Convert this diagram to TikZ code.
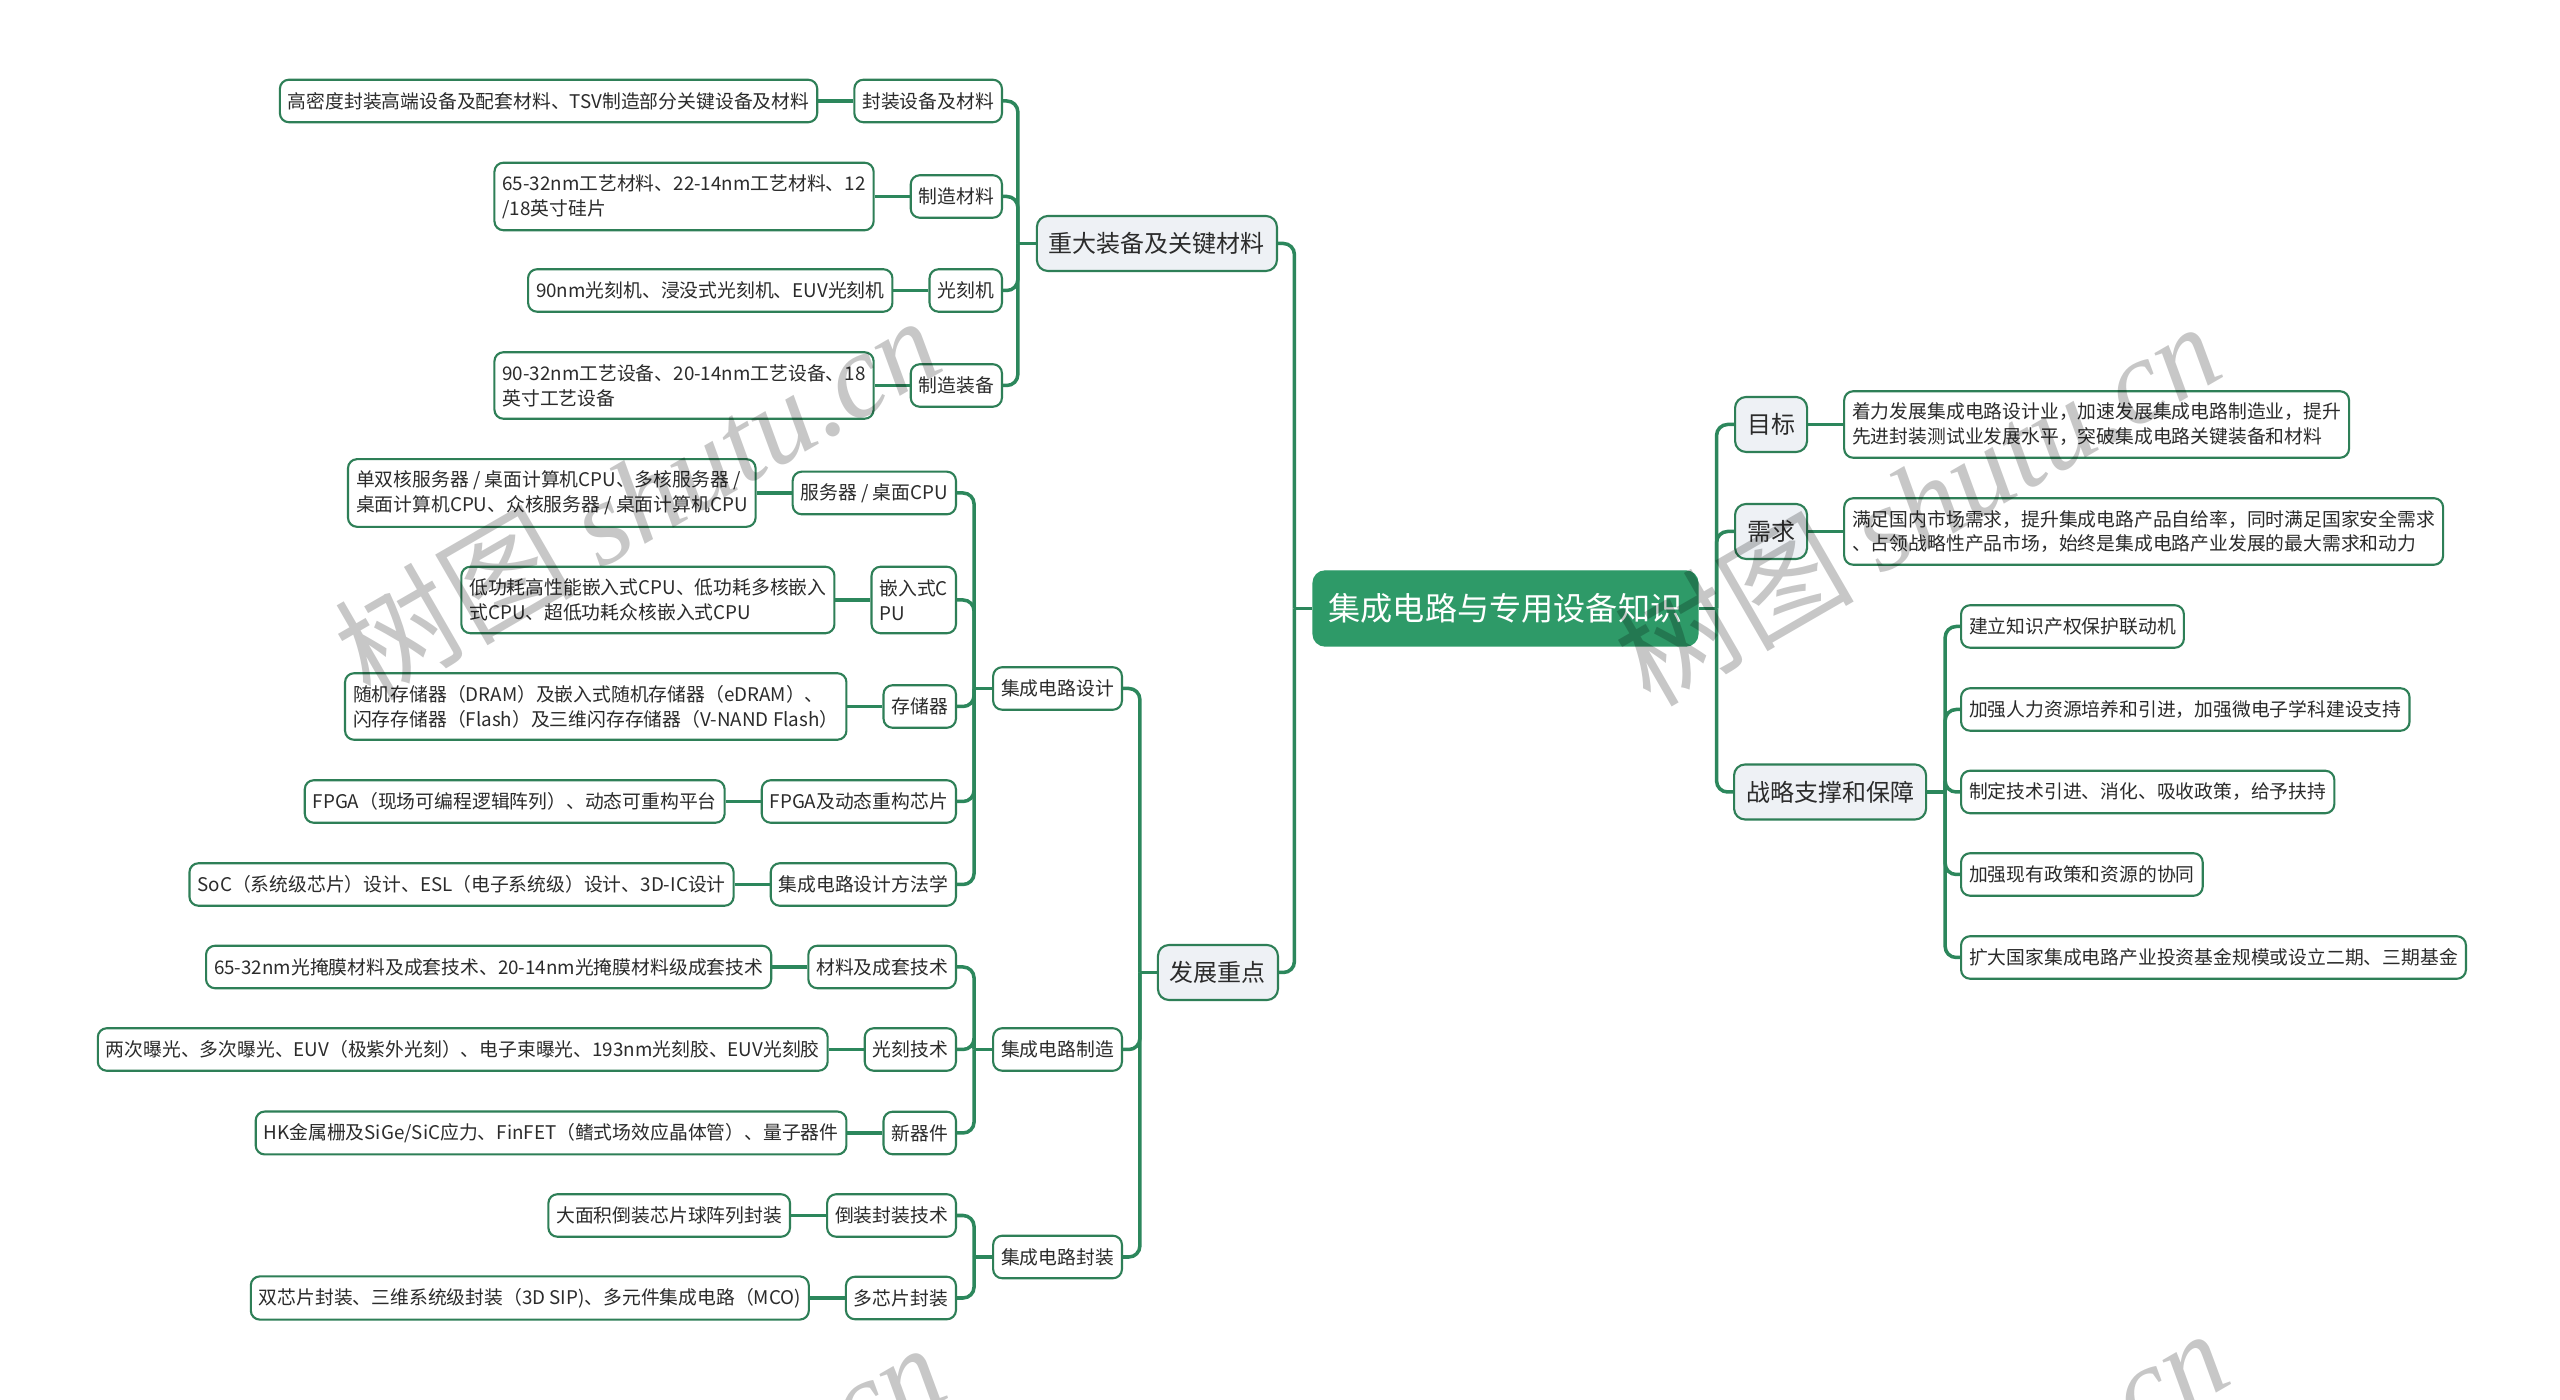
\documentclass[tikz,border=0pt]{standalone}
\usepackage{fontspec}
\setmainfont{Noto Sans CJK SC}
\newfontfamily\wmlatin{Liberation Serif}
\definecolor{lineg}{HTML}{2C875C}
\definecolor{boxg}{HTML}{2E7F57}
\definecolor{rootg}{HTML}{2E9A68}
\definecolor{lonefill}{HTML}{EEF1F5}
\definecolor{txt}{HTML}{2B2B2B}
\tikzset{
  conn/.style={draw=lineg, line width=1pt},
  connr/.style={conn, rounded corners=1.1mm},
  rootbox/.style={fill=rootg, draw=rootg, rounded corners=1.2mm, text=white,
    font=\fontsize{9.15pt}{11pt}\selectfont, inner xsep=1.55mm, minimum height=7.5mm},
  mainbox/.style={fill=lonefill, draw=boxg, line width=0.6pt, rounded corners=1.1mm, text=txt,
    font=\fontsize{6.83pt}{8.5pt}\selectfont, inner xsep=1.2mm, minimum height=5.5mm},
  subbox/.style={fill=white, draw=boxg, line width=0.6pt, rounded corners=0.9mm, text=txt,
    font=\fontsize{5.35pt}{7.1pt}\selectfont, inner xsep=0.8mm, minimum height=4.25mm, align=left},
  leaftwo/.style={subbox, minimum height=6.65mm},
  wm/.style={text=black, text opacity=0.22, font=\fontsize{34pt}{40pt}\selectfont, inner sep=0pt},
}
\begin{document}
\begin{tikzpicture}[x=0.1mm,y=-0.1mm]
\useasboundingbox (0,0) rectangle (2560,1400);
\fill[white] (0,0) rectangle (2560,1400);

% root
\node[rootbox] (root) at (1505.5,608.5) {集成电路与专用设备知识};

% level 1
\node[mainbox, anchor=east] (zd) at (1278,243.5) {重大装备及关键材料};
\node[mainbox, anchor=east] (fz) at (1279,972.5) {发展重点};
\node[mainbox, anchor=west] (mb) at (1734,424.5) {目标};
\node[mainbox, anchor=west] (xq) at (1734,531.5) {需求};
\node[mainbox, anchor=west] (zl) at (1733,792) {战略支撑和保障};

% zd children
\node[subbox, anchor=east] (zda) at (1003,101) {封装设备及材料};
\node[subbox, anchor=east] (zdb) at (1003,196.5) {制造材料};
\node[subbox, anchor=east] (zdc) at (1003,290.5) {光刻机};
\node[subbox, anchor=east] (zdd) at (1003,385.5) {制造装备};
\node[subbox, anchor=east] (zdal) at ([xshift=-3.5mm]zda.west) {高密度封装高端设备及配套材料、TSV制造部分关键设备及材料};
\node[leaftwo, anchor=east] (zdbl) at ([xshift=-3.5mm]zdb.west) {65-32nm工艺材料、22-14nm工艺材料、12\\/18英寸硅片};
\node[subbox, anchor=east] (zdcl) at ([xshift=-3.5mm]zdc.west) {90nm光刻机、浸没式光刻机、EUV光刻机};
\node[leaftwo, anchor=east] (zddl) at ([xshift=-3.5mm]zdd.west) {90-32nm工艺设备、20-14nm工艺设备、18\\英寸工艺设备};

% fz children
\node[subbox, anchor=east] (sj) at (1123,688.5) {集成电路设计};
\node[subbox, anchor=east] (zz) at (1123,1049.5) {集成电路制造};
\node[subbox, anchor=east] (fzz) at (1123,1257) {集成电路封装};

% sj children
\node[subbox, anchor=east] (sja) at (957,493) {服务器 / 桌面CPU};
\node[leaftwo, anchor=east] (sjb) at (957,600) {嵌入式C\\PU};
\node[subbox, anchor=east] (sjc) at (957,706.5) {存储器};
\node[subbox, anchor=east] (sjd) at (957,801.5) {FPGA及动态重构芯片};
\node[subbox, anchor=east] (sje) at (957,884.5) {集成电路设计方法学};
\node[leaftwo, anchor=east] (sjal) at ([xshift=-3.5mm]sja.west) {单双核服务器 / 桌面计算机CPU、多核服务器 /\\桌面计算机CPU、众核服务器 / 桌面计算机CPU};
\node[leaftwo, anchor=east] (sjbl) at ([xshift=-3.5mm]sjb.west) {低功耗高性能嵌入式CPU、低功耗多核嵌入\\式CPU、超低功耗众核嵌入式CPU};
\node[leaftwo, anchor=east] (sjcl) at ([xshift=-3.5mm]sjc.west) {随机存储器（DRAM）及嵌入式随机存储器（eDRAM）、\\闪存存储器（Flash）及三维闪存存储器（V-NAND Flash）};
\node[subbox, anchor=east] (sjdl) at ([xshift=-3.5mm]sjd.west) {FPGA（现场可编程逻辑阵列）、动态可重构平台};
\node[subbox, anchor=east] (sjel) at ([xshift=-3.5mm]sje.west) {SoC（系统级芯片）设计、ESL（电子系统级）设计、3D-IC设计};

% zz children
\node[subbox, anchor=east] (zza) at (957,967) {材料及成套技术};
\node[subbox, anchor=east] (zzb) at (957,1049.5) {光刻技术};
\node[subbox, anchor=east] (zzc) at (957,1133) {新器件};
\node[subbox, anchor=east] (zzal) at ([xshift=-3.5mm]zza.west) {65-32nm光掩膜材料及成套技术、20-14nm光掩膜材料级成套技术};
\node[subbox, anchor=east] (zzbl) at ([xshift=-3.5mm]zzb.west) {两次曝光、多次曝光、EUV（极紫外光刻）、电子束曝光、193nm光刻胶、EUV光刻胶};
\node[subbox, anchor=east] (zzcl) at ([xshift=-3.5mm]zzc.west) {HK金属栅及SiGe/SiC应力、FinFET（鳍式场效应晶体管）、量子器件};

% fzz children
\node[subbox, anchor=east] (fza) at (957,1215.5) {倒装封装技术};
\node[subbox, anchor=east] (fzb) at (957,1298) {多芯片封装};
\node[subbox, anchor=east] (fzal) at ([xshift=-3.5mm]fza.west) {大面积倒装芯片球阵列封装};
\node[subbox, anchor=east] (fzbl) at ([xshift=-3.5mm]fzb.west) {双芯片封装、三维系统级封装（3D SIP)、多元件集成电路（MCO)};

% right side leaves
\node[leaftwo, anchor=west] (mbl) at ([xshift=3.5mm]mb.east) {着力发展集成电路设计业，加速发展集成电路制造业，提升\\先进封装测试业发展水平，突破集成电路关键装备和材料};
\node[leaftwo, anchor=west] (xql) at ([xshift=3.5mm]xq.east) {满足国内市场需求，提升集成电路产品自给率，同时满足国家安全需求\\、占领战略性产品市场，始终是集成电路产业发展的最大需求和动力};
\node[subbox, anchor=west] (zla) at (1960,626.5) {建立知识产权保护联动机};
\node[subbox, anchor=west] (zlb) at (1960,709.5) {加强人力资源培养和引进，加强微电子学科建设支持};
\node[subbox, anchor=west] (zlc) at (1960,792) {制定技术引进、消化、吸收政策，给予扶持};
\node[subbox, anchor=west] (zld) at (1960,874.5) {加强现有政策和资源的协同};
\node[subbox, anchor=west] (zle) at (1960,957.5) {扩大国家集成电路产业投资基金规模或设立二期、三期基金};

% connectors
\draw[conn] (root.west) -- ++(-18,0) coordinate (rl);
\draw[connr] (rl) |- (zd.east);
\draw[connr] (rl) |- (fz.east);
\draw[conn] (root.east) -- ++(18,0) coordinate (rr);
\draw[connr] (rr) |- (mb.west);
\draw[connr] (rr) |- (xq.west);
\draw[connr] (rr) |- (zl.west);

\draw[conn] (zd.west) -- ++(-18,0) coordinate (zdbus);
\foreach \n in {zda,zdb,zdc,zdd} {\draw[connr] (zdbus) |- (\n.east);}
\foreach \n in {zda,zdb,zdc,zdd} {\draw[conn] (\n.west) -- (\n l.east);}

\draw[conn] (fz.west) -- ++(-17,0) coordinate (fzbus);
\foreach \n in {sj,zz,fzz} {\draw[connr] (fzbus) |- (\n.east);}

\draw[conn] (sj.west) -- ++(-18,0) coordinate (sjbus);
\foreach \n in {sja,sjb,sjc,sjd,sje} {\draw[connr] (sjbus) |- (\n.east);}
\foreach \n in {sja,sjb,sjc,sjd,sje} {\draw[conn] (\n.west) -- (\n l.east);}

\draw[conn] (zz.west) -- ++(-18,0) coordinate (zzbus);
\foreach \n in {zza,zzb,zzc} {\draw[connr] (zzbus) |- (\n.east);}
\foreach \n in {zza,zzb,zzc} {\draw[conn] (\n.west) -- (\n l.east);}

\draw[conn] (fzz.west) -- ++(-18,0) coordinate (fzzbus);
\foreach \n in {fza,fzb} {\draw[connr] (fzzbus) |- (\n.east);}
\foreach \n in {fza,fzb} {\draw[conn] (\n.west) -- (\n l.east);}

\draw[conn] (mb.east) -- (mbl.west);
\draw[conn] (xq.east) -- (xql.west);
\draw[conn] (zl.east) -- ++(18,0) coordinate (zlbus);
\foreach \n in {zla,zlb,zlc,zld,zle} {\draw[connr] (zlbus) |- (\n.west);}

% watermarks
\begin{scope}
\clip (0,0) rectangle (2560,1400);
\foreach \wx/\wy in {370/703,1650/709,375/1730,1658/1716} {
  \node[wm, anchor=base west, rotate=30] at (\wx,\wy) {树图 {\wmlatin\itshape shutu.cn}};
}
\end{scope}
\end{tikzpicture}
\end{document}
